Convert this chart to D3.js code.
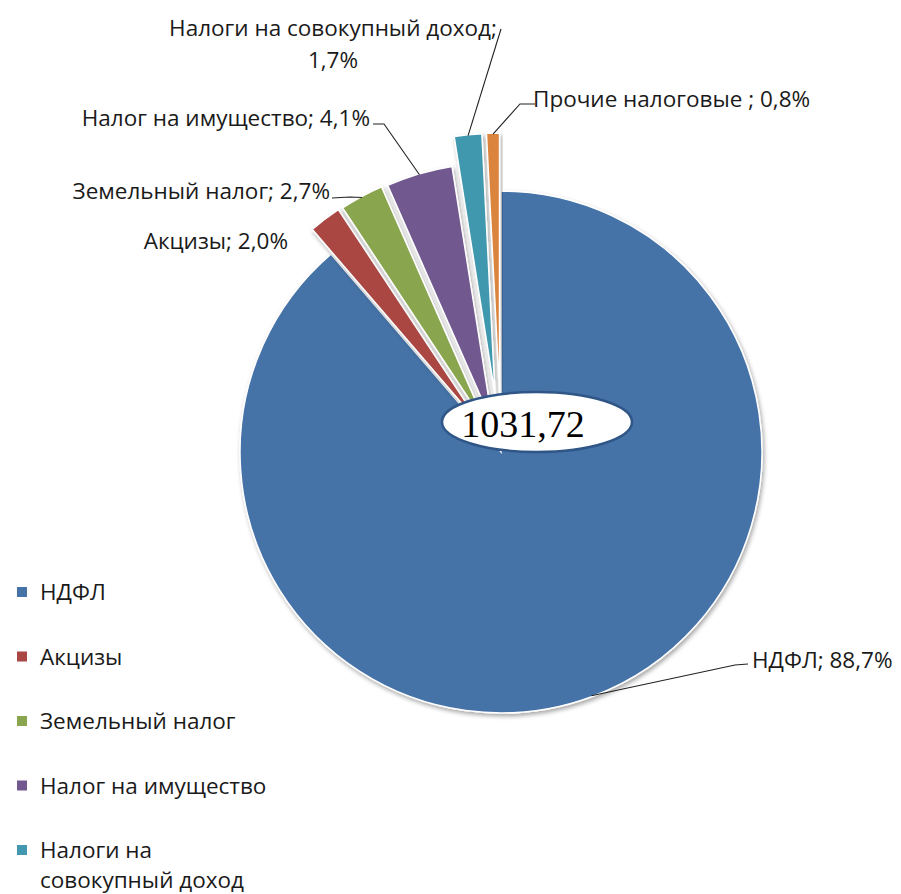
<!DOCTYPE html>
<html><head><meta charset="utf-8">
<script src="https://cdn.jsdelivr.net/npm/d3@7"></script>
<style>body{margin:0;background:#fff;} svg{display:block;}</style>
</head><body>
<script>
// ---- data ----
const categories = ["НДФЛ","Акцизы","Земельный налог","Налог на имущество","Налоги на совокупный доход","Прочие налоговые "];
const shares = [88.7, 2.0, 2.7, 4.1, 1.7, 0.8];
const totalValue = "1031,72";
const colors = ["#4572A7","#AA4643","#89A54E","#71588F","#4198AF","#DB843D"];

// ---- layout / style ----
const W = 901, H = 894;
const cx = 501, cy = 452, R = 261;
const explode = [0, 31, 30, 29, 58, 58];
const labelLayout = [
  {x:752, y:668, anchor:"start", elbow:[[748,664],[735,665]]},
  {x:288, y:249, anchor:"end", elbow:null},
  {x:330, y:199, anchor:"end", elbow:[[332,198],[350,197]]},
  {x:370, y:126, anchor:"end", elbow:[[373,124],[384,124]]},
  {x:333, y:36, anchor:"middle", lines:2, elbow:[[501,29]]},
  {x:533, y:107, anchor:"start", elbow:[[535,104],[520,104]]}
];
const fontFam = "'Open Sans', 'Noto Sans', sans-serif";
const fontSize = 22.5;
const fmt = v => d3.format(".1f")(v).replace(".", ",") + "%";

const svg = d3.select("body").append("svg").attr("width", W).attr("height", H);
const defs = svg.append("defs");
const f = defs.append("filter").attr("id","sh").attr("x","-20%").attr("y","-20%").attr("width","140%").attr("height","140%");
f.append("feDropShadow").attr("dx",1.5).attr("dy",2.5).attr("stdDeviation",2.2).attr("flood-color","#000").attr("flood-opacity",0.35);

const pie = d3.pie().sort(null).value(d => d)(shares);
const arc = d3.arc().innerRadius(0).outerRadius(R);
const off = (d,i) => { const a = (d.startAngle + d.endAngle)/2; return [Math.sin(a)*explode[i], -Math.cos(a)*explode[i]]; };

const g = svg.append("g").attr("transform", `translate(${cx},${cy})`);
g.selectAll("path.slice").data(pie).join("path")
  .attr("class","slice")
  .attr("d", arc)
  .attr("transform", (d,i) => { const o = off(d,i); return `translate(${o[0]},${o[1]})`; })
  .attr("fill", (d,i) => colors[i])
  .attr("stroke", "#fff").attr("stroke-width", 1.5)
  .attr("filter", "url(#sh)");

// leader lines + labels
const outerPt = (d,i) => { const a = (d.startAngle + d.endAngle)/2; const rr = R - 1 + explode[i]; return [cx + Math.sin(a)*rr, cy - Math.cos(a)*rr]; };
pie.forEach((d,i) => {
  const L = labelLayout[i];
  if (L.elbow) {
    const pts = L.elbow.concat([outerPt(d,i)]);
    svg.append("path").attr("d", d3.line()(pts)).attr("fill","none").attr("stroke","#222").attr("stroke-width",1.1);
  }
  const txt = svg.append("text").attr("x", L.x).attr("y", L.y).attr("text-anchor", L.anchor)
    .attr("font-family", fontFam).attr("font-size", fontSize).attr("fill", "#1a1a1a");
  const name = categories[i] + ";";
  if (L.lines === 2) {
    txt.append("tspan").attr("x", L.x).text(name);
    txt.append("tspan").attr("x", L.x).attr("dy", 32).text(fmt(shares[i]));
  } else {
    txt.text(name + " " + fmt(shares[i]));
  }
});

// center ellipse
svg.append("ellipse").attr("cx", 537).attr("cy", 422).attr("rx", 95).attr("ry", 30)
  .attr("fill", "#fff").attr("stroke", "#2f5687").attr("stroke-width", 2.5);
svg.append("text").attr("x", 523).attr("y", 437).attr("text-anchor","middle")
  .attr("font-family","'Liberation Serif','Times New Roman',serif").attr("font-size", 38).attr("fill","#000")
  .text(totalValue);

// legend (entries that fall below the visible area are clipped, as in the original)
const legend = svg.append("g");
const legendY0 = 592, legendStep = 64.5;
categories.forEach((c,i) => {
  const y = legendY0 + i*legendStep;
  if (y > H) return;
  legend.append("rect").attr("x", 17).attr("y", y-5).attr("width", 10).attr("height", 10).attr("fill", colors[i]);
  const t = legend.append("text").attr("x", 40).attr("y", y + 8)
    .attr("font-family", fontFam).attr("font-size", fontSize).attr("fill", "#1a1a1a");
  if (c === "Налоги на совокупный доход") {
    t.append("tspan").attr("x",40).text("Налоги на");
    t.append("tspan").attr("x",40).attr("dy",30).text("совокупный доход");
  } else t.text(c.trim());
});
</script>
</body></html>
